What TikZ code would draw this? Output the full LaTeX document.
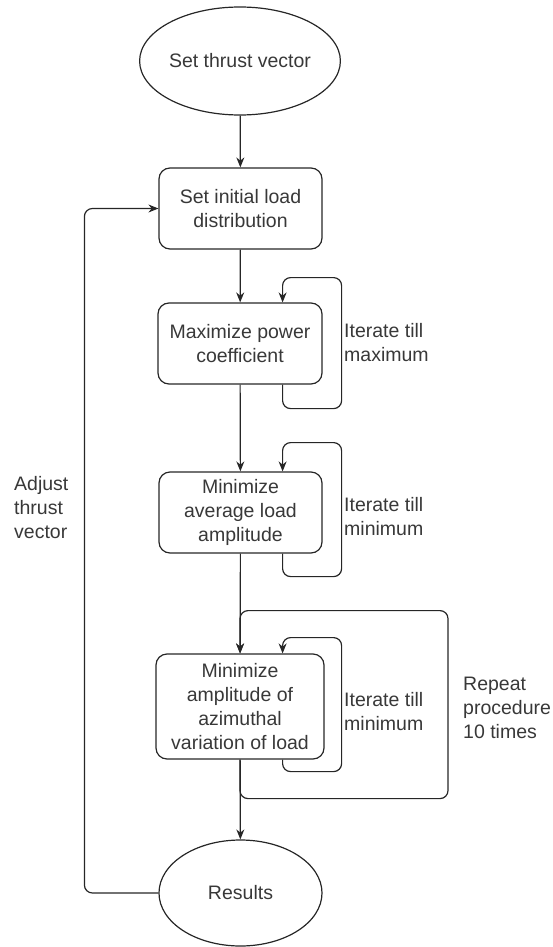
\documentclass[tikz,border=0pt]{standalone}
\usepackage{fontspec}
\setmainfont{Liberation Sans}
\usetikzlibrary{shapes.geometric,arrows.meta}
\begin{document}
\begin{tikzpicture}[x=1pt,y=-1pt,
  every node/.style={font=\fontsize{19.5}{24}\selectfont, text=black!78},
  line/.style={draw=black!85, line width=1.2pt},
  arr/.style={line, -{Stealth[length=10pt,width=8pt]}},
  loopline/.style={arr, rounded corners=8pt},
  stepbox/.style={draw=black!85, line width=1.2pt, rounded corners=11pt, align=center, inner sep=0pt},
  oval/.style={draw=black!85, line width=1.2pt, ellipse, inner sep=0pt, align=center},
  lbl/.style={anchor=west, align=left, inner sep=0pt}
]
\useasboundingbox (0,0) rectangle (553,947);

\node[oval, minimum width=164pt, minimum height=108pt] (start) at (240,61) {Set thrust vector};
\node[stepbox, minimum width=163pt, minimum height=81pt] (b1) at (240.5,208.5) {Set initial load\\distribution};
\node[stepbox, minimum width=164pt, minimum height=81pt] (b2) at (240,343.5) {Maximize power\\coefficient};
\node[stepbox, minimum width=163pt, minimum height=81pt] (b3) at (240.5,512.5) {Minimize\\average load\\amplitude};
\node[stepbox, minimum width=168pt, minimum height=105pt] (b4) at (240,706.5) {Minimize\\amplitude of\\azimuthal\\variation of load};
\node[oval, minimum width=163pt, minimum height=106pt] (res) at (240.5,893) {Results};

% main flow
\draw[arr] (start) -- (b1);
\draw[arr] (b1) -- (b2);
\draw[arr] (b2) -- (b3);
\draw[arr] (b3) -- (b4);
\draw[arr] (b4) -- (res);

% iterate loops
\draw[loopline] ([xshift=-40pt]b2.south east) -- ++(0,24) -- ++(59,0) -- ++(0,-131) -- ++(-59,0) -- ([xshift=-40pt]b2.north east);
\draw[loopline] ([xshift=-40pt]b3.south east) -- ++(0,23) -- ++(59,0) -- ++(0,-134) -- ++(-59,0) -- ([xshift=-40pt]b3.north east);
\draw[loopline] ([xshift=-42pt]b4.south east) -- ++(0,12) -- ++(59,0) -- ++(0,-134) -- ++(-59,0) -- ([xshift=-42pt]b4.north east);

% repeat loop
\draw[loopline] (b4.south) -- ++(0,39) -- ++(208,0) -- ++(0,-188) -- ++(-208,0) -- (b4.north);

% feedback
\draw[loopline] (res.west) -| ([xshift=-74pt]b1.west) -- (b1.west);

% labels
\node[lbl] (t1) at (344,343) {Iterate till\\maximum};
\node[lbl] (t2) at (344,517) {Iterate till\\minimum};
\node[lbl] (t3) at (344,712) {Iterate till\\minimum};
\node[lbl] (t4) at (463,708) {Repeat\\procedure\\10 times};
\node[lbl] (t5) at (14,508) {Adjust\\thrust\\vector};
\end{tikzpicture}
\end{document}
